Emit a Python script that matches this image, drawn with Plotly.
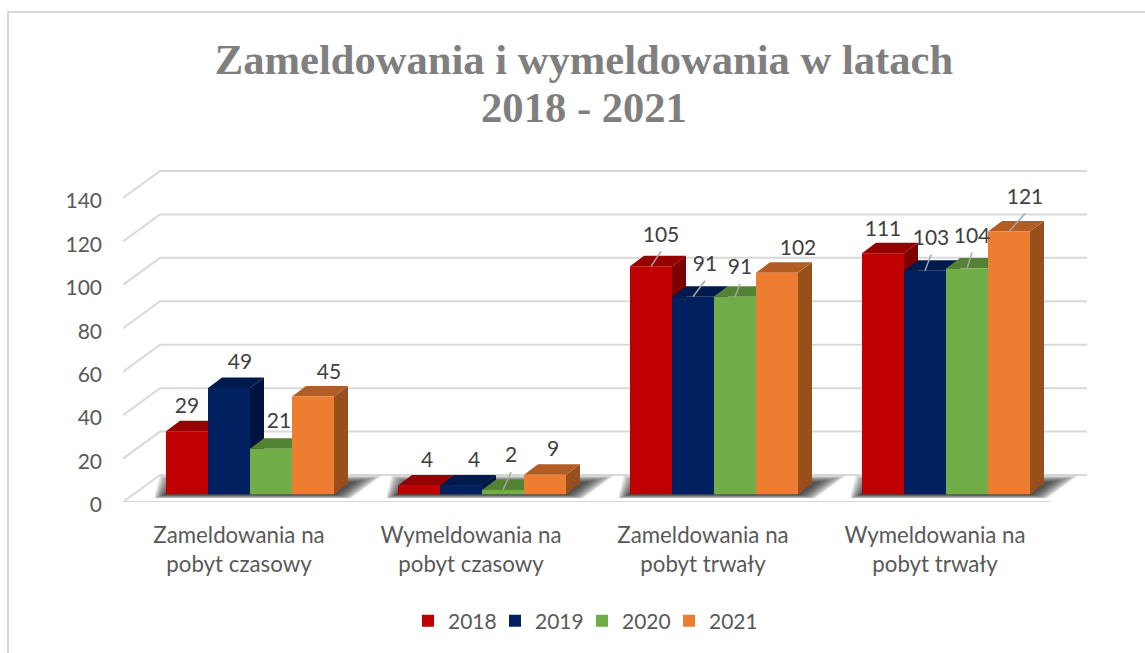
import plotly.graph_objects as go

categories = ["Zameldowania na<br>pobyt czasowy", "Wymeldowania na<br>pobyt czasowy",
              "Zameldowania na<br>pobyt trwały", "Wymeldowania na<br>pobyt trwały"]
years = ["2018", "2019", "2020", "2021"]
v2018 = [29, 4, 105, 111]
v2019 = [49, 4, 91, 103]
v2020 = [21, 2, 91, 104]
v2021 = [45, 9, 102, 121]
series = [v2018, v2019, v2020, v2021]
y_ticks = [0, 20, 40, 60, 80, 100, 120, 140]

front = ["#C00000", "#002060", "#70AD47", "#ED7D31"]
side = ["#7F0000", "#00133F", "#4A7A2E", "#974F1E"]
top = ["#950000", "#001A4D", "#548235", "#B15D24"]

# label offsets from the bar's top-front centre, in pixels (right, up)
lab_dx = [[0, 11, 8, 16], [8, 13, 8, 8], [10, 12, 5, 21], [0, 6, 5, 16]]
lab_dy = [[24, 24, 26, 23], [24, 24, 33, 24], [30, 31, 28, 23], [23, 31, 31, 33]]
leader = [[0, 0, 0, 0], [0, 0, 1, 0], [1, 1, 1, 0], [0, 1, 1, 1]]

PX_X = 232.0   # px per category
PX_Y = 304 / 140  # px per value unit
BAR_START = 43 / PX_X
BAR_W = 42.0 / PX_X
BASE = 7.7 / PX_Y
DX, DY = 14 / PX_X, 10.5 / PX_Y
WALL_DX, WALL_DY = 37 / PX_X, 27 / PX_Y
GRID = "#D9D9D9"
TXT = "#595959"

fig = go.Figure()


def poly(xs, ys, color):
    fig.add_trace(go.Scatter(x=xs, y=ys, mode="none", fill="toself", fillcolor=color,
                             showlegend=False, hoverinfo="skip", cliponaxis=False))


# walls: gridlines on the back wall, diagonals on the side, front floor edge
gx, gy = [], []
for t in y_ticks:
    gx += [0, WALL_DX, 4 + WALL_DX, None]
    gy += [t, t + WALL_DY, t + WALL_DY, None]
gx += [0, 4]
gy += [0, 0]
fig.add_trace(go.Scatter(x=gx, y=gy, mode="lines", line=dict(color=GRID, width=2),
                         showlegend=False, hoverinfo="skip", cliponaxis=False))

# soft floor shadows as nested layers
N = 14
for k in range(N):
    e = (N - k) / N
    ex, ey = e * 34 / PX_X, e * 8 / PX_Y
    xs, ys = [], []
    for i in range(4):
        l = i + BAR_START
        r = l + 4 * BAR_W
        b0, b1 = BASE - ey * 0.5, BASE + DY + ey
        xs += [l - ex * 0.35, r + ex * 0.5, r + DX + ex, l + DX - ex * 0.6, None]
        ys += [b0, b0, b1, b1, None]
    poly(xs, ys, "rgba(30,30,30,0.10)")

# bars: side, top and front faces, series by series, left to right
for j, vals in enumerate(series):
    sx, sy, tx, ty, fx, fy = [], [], [], [], [], []
    for i, v in enumerate(vals):
        l = i + BAR_START + j * BAR_W
        r = l + BAR_W
        h = BASE + v
        sx += [r, r + DX, r + DX, r, None]
        sy += [BASE, BASE + DY, h + DY, h, None]
        tx += [l, r, r + DX, l + DX, None]
        ty += [h, h, h + DY, h + DY, None]
        fx += [l, r, r, l, None]
        fy += [BASE, BASE, h, h, None]
    poly(sx, sy, side[j])
    poly(tx, ty, top[j])
    poly(fx, fy, front[j])

# leaders and data labels
lx, ly, tx, ty, tt = [], [], [], [], []
for j, vals in enumerate(series):
    for i, v in enumerate(vals):
        cx = i + BAR_START + (j + 0.5) * BAR_W
        h = BASE + v
        px = cx + lab_dx[i][j] / PX_X
        py = h + lab_dy[i][j] / PX_Y
        tx.append(px)
        ty.append(py)
        tt.append(str(v))
        if leader[i][j]:
            lx += [cx, px, None]
            ly += [h, py - 15 / PX_Y, None]
fig.add_trace(go.Scatter(x=lx, y=ly, mode="lines", line=dict(color="#A6A6A6", width=1.5),
                         showlegend=False, hoverinfo="skip"))
fig.add_trace(go.Scatter(x=tx, y=ty, mode="text", text=tt, textposition="middle center",
                         textfont=dict(family="Lato", size=21, color="#404040"),
                         showlegend=False, hoverinfo="skip", cliponaxis=False))

# legend entries
for j, y in enumerate(years):
    fig.add_trace(go.Scatter(x=[None], y=[None], mode="markers", name=y,
                             marker=dict(symbol="square", size=17, color=front[j])))

# outer chart frame in paper coordinates derived from the plot box
L, R, T, B = 123, 58, 170, 151
W, H = 1145, 653
pw, ph = W - L - R, H - T - B


def fx_(p):
    return (p - L) / pw


def fy_(p):
    return (H - B - p) / ph


fig.update_layout(
    width=W, height=H,
    margin=dict(l=L, r=R, t=T, b=B, autoexpand=False),
    paper_bgcolor="white", plot_bgcolor="white",
    font=dict(family="Lato", size=21, color=TXT),
    title=dict(text="<span style='font-size:42.6px'>Zameldowania i wymeldowania w latach<br>2018 - 2021</span>",
               font=dict(family="Liberation Serif", size=37, color="#7F7F7F", weight="bold"),
               x=584 / W, xanchor="center", y=1 - 74 / H, yanchor="middle", xref="container", yref="container"),
    xaxis=dict(range=[0, pw / PX_X], tickmode="array", tickvals=[0.5, 1.5, 2.5, 3.5],
               ticktext=categories,
               tickfont=dict(size=22.3, color=TXT), showgrid=False, zeroline=False, showline=False,
               ticks="", ticklabelstandoff=18, fixedrange=True),
    yaxis=dict(range=[0, ph / PX_Y], tickmode="array", tickvals=y_ticks,
               tickfont=dict(size=21, color=TXT), showgrid=False, zeroline=False, showline=False,
               ticks="", ticklabelstandoff=20, ticklabelshift=3, fixedrange=True),
    legend=dict(orientation="h", x=582 / W, xref="container", xanchor="center", y=1 - 621 / H,
                yref="container", yanchor="middle", font=dict(size=21, color=TXT),
                itemsizing="constant", traceorder="normal", entrywidth=42, entrywidthmode="pixels"),
    shapes=[dict(type="rect", xref="paper", yref="paper", x0=fx_(8), x1=fx_(1170), y0=fy_(12), y1=fy_(670),
                 line=dict(color="#D9D9D9", width=2), fillcolor="rgba(0,0,0,0)", layer="below")],
    showlegend=True,
)
fig.write_html("out.html", post_script="document.body.style.margin='0';", config=dict(displayModeBar=False))
